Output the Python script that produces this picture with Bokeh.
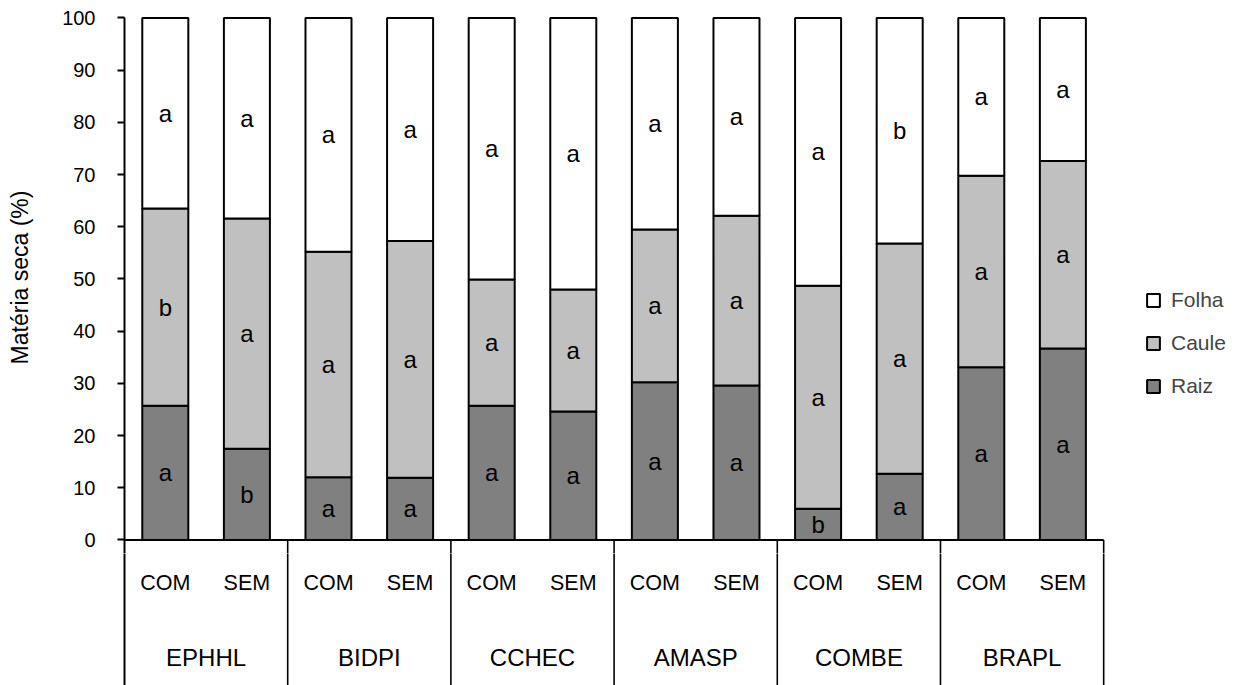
from bokeh.plotting import figure
from bokeh.layouts import column
from bokeh.models import (ColumnDataSource, Range1d, FixedTicker, Legend, LegendItem)
from bokeh.core.properties import value
from bokeh.embed import file_html
from bokeh.resources import INLINE

# ---- data ----
groups = ["EPHHL", "BIDPI", "CCHEC", "AMASP", "COMBE", "BRAPL"]
treatments = ["COM", "SEM"]
raiz = [25.7, 17.5, 12.0, 11.9, 25.7, 24.6, 30.2, 29.6, 6.0, 12.7, 33.1, 36.7]
caule = [37.8, 44.1, 43.2, 45.4, 24.2, 23.4, 29.3, 32.5, 42.7, 44.1, 36.7, 35.9]
folha = [36.5, 38.4, 44.8, 42.7, 50.1, 52.0, 40.5, 37.9, 51.3, 43.2, 30.2, 27.4]
letters_raiz = ["a", "b", "a", "a", "a", "a", "a", "a", "b", "a", "a", "a"]
letters_caule = ["b", "a", "a", "a", "a", "a", "a", "a", "a", "a", "a", "a"]
letters_folha = ["a", "a", "a", "a", "a", "a", "a", "a", "a", "b", "a", "a"]
yticks = [0, 10, 20, 30, 40, 50, 60, 70, 80, 90, 100]

FONT = "Liberation Sans"
n = len(raiz)
xs = [i + 0.5 for i in range(n)]
A_BOTTOM = -2.59
seps = [2 * (g + 1) for g in range(len(groups))]

xr = Range1d(0, 13.64)

# ---------- bar panel ----------
src = ColumnDataSource(dict(x=xs, Raiz=raiz, Caule=caule, Folha=folha))
p = figure(width=1237, height=553, output_backend="svg", toolbar_location=None,
           x_range=xr, y_range=Range1d(A_BOTTOM, 103.16),
           x_axis_location=None, min_border_left=124, min_border_right=0,
           min_border_top=1, min_border_bottom=0)
p.outline_line_color = None
p.xgrid.visible = False
p.ygrid.visible = False

colors = ["#808080", "#c0c0c0", "#ffffff"]
rs = p.vbar_stack(["Raiz", "Caule", "Folha"], x="x", width=0.564, source=src,
                  fill_color=colors, line_color="black", line_width=2)

mid_r = [r / 2 for r in raiz]
mid_c = [r + c / 2 for r, c in zip(raiz, caule)]
mid_f = [r + c + f / 2 for r, c, f in zip(raiz, caule, folha)]
lsrc = ColumnDataSource(dict(x=xs * 3, y=mid_r + mid_c + mid_f,
                             t=letters_raiz + letters_caule + letters_folha))
p.text(x="x", y="y", text="t", source=lsrc, text_font=value(FONT),
       text_font_size="24px", text_align="center", text_baseline="middle",
       text_color="black")

p.segment(x0=[0], y0=[0], x1=[n], y1=[0], line_color="black", line_width=2)
p.segment(x0=seps, y0=[0] * len(seps), x1=seps, y1=[-10] * len(seps),
          line_color="black", line_width=1.6)

ax = p.yaxis[0]
ax.ticker = FixedTicker(ticks=yticks)
ax.bounds = (A_BOTTOM, 100)
ax.minor_tick_line_color = None
ax.major_tick_in = 0
ax.major_tick_out = 7
ax.major_tick_line_width = 2
ax.major_tick_line_color = "black"
ax.axis_line_width = 2
ax.axis_line_color = "black"
ax.major_label_text_font = FONT
ax.major_label_text_font_size = "20px"
ax.major_label_text_color = "black"
ax.major_label_standoff = 22
ax.axis_label = "Matéria seca (%)"
ax.axis_label_text_font = FONT
ax.axis_label_text_font_size = "23px"
ax.axis_label_text_font_style = "normal"
ax.axis_label_text_color = "black"
ax.axis_label_standoff = 26

legend = Legend(items=[LegendItem(label="Folha", renderers=[rs[2]]),
                       LegendItem(label="Caule", renderers=[rs[1]]),
                       LegendItem(label="Raiz", renderers=[rs[0]])],
                location=(1021, 155), padding=0, margin=0, spacing=18,
                glyph_width=16, glyph_height=16, label_height=25,
                label_standoff=10, border_line_color=None,
                background_fill_alpha=0, label_text_font=FONT,
                label_text_font_size="21px", label_text_baseline="middle")
p.add_layout(legend)

# ---------- category box panel ----------
q = figure(width=1237, height=132, output_backend="svg", toolbar_location=None,
           x_range=xr, y_range=Range1d(-27.87, A_BOTTOM),
           x_axis_location=None, min_border_left=124, min_border_right=0,
           min_border_top=0, min_border_bottom=0)
q.outline_line_color = None
q.xgrid.visible = False
q.ygrid.visible = False
qa = q.yaxis[0]
qa.ticker = FixedTicker(ticks=[])
qa.minor_tick_line_color = None
qa.major_tick_line_color = None
qa.axis_line_width = 2
qa.axis_line_color = "black"

q.segment(x0=seps, y0=[0] * len(seps), x1=seps, y1=[-30] * len(seps),
          line_color="black", line_width=1.6)

sub_src = ColumnDataSource(dict(x=xs, y=[-8.24] * n,
                                t=[treatments[i % 2] for i in range(n)]))
q.text(x="x", y="y", text="t", source=sub_src, text_font=value(FONT),
       text_font_size="21.5px", text_align="center", text_baseline="middle")
grp_src = ColumnDataSource(dict(x=[2 * g + 1 for g in range(len(groups))],
                                y=[-22.5] * len(groups), t=groups))
q.text(x="x", y="y", text="t", source=grp_src, text_font=value(FONT),
       text_font_size="24px", text_align="center", text_baseline="middle")

layout = column(p, q, spacing=0)
open("out.html", "w").write(file_html(layout, INLINE))
